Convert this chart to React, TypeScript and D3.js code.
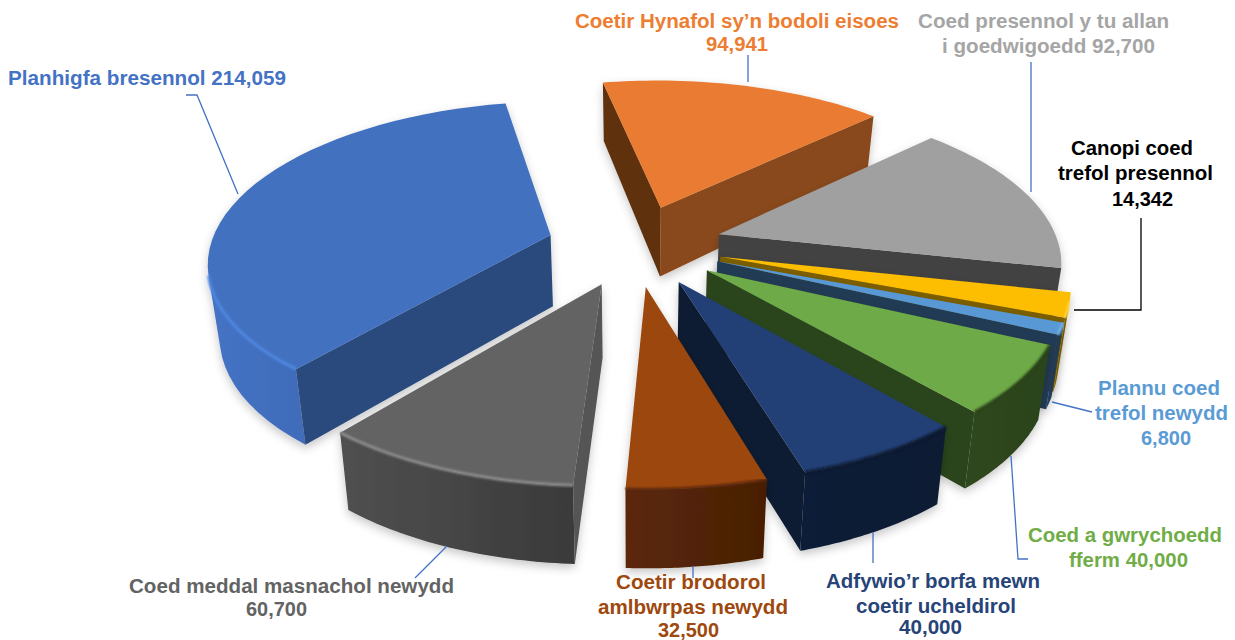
import React from 'react';
import * as d3 from 'd3';

// data
const categories = [
  'Coetir Hynafol', 'Coed presennol', 'Canopi coed', 'Plannu coed', 'Coed a gwrychoedd',
  'Adfywio', 'Coetir brodorol', 'Coed meddal', 'Planhigfa',
];
const values = [94941, 92700, 14342, 6800, 40000, 40000, 32500, 60700, 214059];
const labelLines = [
  ['Coetir Hynafol sy’n bodoli eisoes', '{v}'],
  ['Coed presennol y tu allan', 'i goedwigoedd {v}'],
  ['Canopi coed', 'trefol presennol', '{v}'],
  ['Plannu coed', 'trefol newydd', '{v}'],
  ['Coed a gwrychoedd', 'fferm {v}'],
  ['Adfywio’r borfa mewn', 'coetir ucheldirol', '{v}'],
  ['Coetir brodorol', 'amlbwrpas newydd', '{v}'],
  ['Coed meddal masnachol newydd', '{v}'],
  ['Planhigfa bresennol {v}'],
];

// styles
const topColors = ['#e97c30', '#a0a0a0', '#fdbd00', '#5898d4', '#6eaa46', '#234074', '#9c470c', '#636363', '#4371c0'];
const wallColors = ['#894a1d', '#434343', '#7c5f00', '#213b55', '#2c441b', '#0c1a33', '#59260a', '#555555', '#2a4a7d'];
const startWallColors = ['#5f3110', '#434343', '#7c5f00', '#213b55', '#2c441b', '#0c1a33', '#59260a', '#555555', '#2a4a7d'];
const rimLeft = ['#894a1d', '#6a6a6a', '#a07a00', '#2a4a6a', '#2e471f', '#0e1c37', '#5c280a', '#4f4f4f', '#4472c4'];
const rimRight = ['#894a1d', '#555555', '#7c5f00', '#203a54', '#2c441b', '#0c1a33', '#481f04', '#3a3a3a', '#355d9f'];
const bevelColors = ['#e97c30', '#777777', '#ffd24d', '#7ab4e8', '#2c441b', '#0c1a33', '#59260a', '#8a8a8a', '#4d86e0'];
const labelColors = ['#ed7d31', '#a5a5a5', '#000000', '#5b9bd5', '#70ad47', '#264478', '#9e480e', '#636363', '#4472c4'];

// x0, x1, baseline of each label line
const labelBoxes = [
  [[575, 899, 28], [706, 768, 51]],
  [[918, 1169, 28], [942, 1155, 53]],
  [[1071, 1193, 155], [1058, 1213, 180], [1112, 1173, 206]],
  [[1098, 1220, 395], [1095, 1228, 420], [1141, 1191, 445]],
  [[1028, 1222, 542], [1069, 1188, 567]],
  [[826, 1040, 588], [856, 1016, 613], [899, 962, 634]],
  [[616, 766, 589], [598, 788, 614], [658, 719, 637]],
  [[129, 454, 593], [246, 307, 616]],
  [[8, 286, 85]],
];
const leaderLines = [
  [[748, 55], [748, 82]],
  [[1031, 62], [1031, 192]],
  [[1074, 310], [1141, 310], [1141, 218]],
  [[1052, 402], [1092, 412]],
  [[1011, 456], [1018, 559], [1028, 559]],
  [[873, 532], [873, 563]],
  [[693, 566], [693, 578]],
  [[447, 546], [415, 578]],
  [[186, 95], [197, 95], [238, 194]],
];

const width = 1235, height = 640;
const CX = 635, CY = 245, R = 340, EXPLODE = 88, K = 0.462, P = 0.00045, H = 72;
const START = (-11 * Math.PI) / 180;

type Pt = [number, number];

const project = (X: number, Y: number, z = 0): Pt => {
  const w = 1 / (1 - P * Y);
  const hf = w < 1 ? 1 + 1.2 * (w - 1) : 1 + 0.4 * (w - 1);
  return [CX + X * w * (1 - 0.028 * z), CY + K * Y * w + H * z * hf];
};

const pie = d3.pie<number>().sort(null).startAngle(START).endAngle(START + 2 * Math.PI);
const arcs = pie(values);
const fmt = d3.format(',');
const line = d3.line();
const closed = (pts: Pt[]) => line(pts) + 'Z';
const cross = (a: Pt, b: Pt, c: Pt) => (b[0] - a[0]) * (c[1] - a[1]) - (b[1] - a[1]) * (c[0] - a[0]);

const slices = arcs.map((a, i) => {
  const mid = (a.startAngle + a.endAngle) / 2;
  const ox = EXPLODE * Math.sin(mid), oy = -EXPLODE * Math.cos(mid);
  const steps = d3.range(0, 41).map(t => a.startAngle + ((a.endAngle - a.startAngle) * t) / 40);
  const outer = (z: number) => steps.map(t => project(ox + R * Math.sin(t), oy - R * Math.cos(t), z));
  const tip = project(ox, oy, 0), tipB = project(ox, oy, 1);
  const top = outer(0), bottom = outer(1);
  // a face is seen when it hangs from the edge on the side away from the top face
  const seen = (p: Pt, q: Pt, inside: Pt, down: Pt) => cross(p, q, inside) * cross(p, q, down) < 0;
  const rimIdx = d3.range(0, 40).filter(j => seen(top[j], top[j + 1], tip, bottom[j]));
  const rimTop = rimIdx.length ? [...rimIdx.map(j => top[j]), top[d3.max(rimIdx)! + 1]] : [];
  const rimBottom = rimIdx.length ? [...rimIdx.map(j => bottom[j]), bottom[d3.max(rimIdx)! + 1]] : [];
  return {
    i, depth: oy,
    top: closed([tip, ...top]),
    rim: rimTop.length ? closed([...rimTop, ...[...rimBottom].reverse()]) : null,
    wallStart: seen(tip, top[0], top[20], tipB) ? closed([tip, top[0], bottom[0], tipB]) : null,
    wallEnd: seen(tip, top[40], top[20], tipB) ? closed([tip, top[40], bottom[40], tipB]) : null,
    bevel: rimTop.length > 1 ? (line(rimTop) as string) : null,
    x0: d3.min(bottom, p => p[0]) as number,
    x1: d3.max(bottom, p => p[0]) as number,
  };
});
const drawOrder = [...slices].sort((a, b) => a.depth - b.depth);

export default function App() {
  return (
    <svg width={width} height={height} style={{ position: 'absolute', left: 0, top: 0, background: '#fff' }}>
      <defs>
        <filter id="shadow" x="-20%" y="-20%" width="140%" height="140%">
          <feDropShadow dx="0" dy="4" stdDeviation="5" floodColor="#000" floodOpacity="0.22" />
        </filter>
        <filter id="soft" x="-5%" y="-5%" width="110%" height="110%">
          <feGaussianBlur stdDeviation="1" />
        </filter>
        {slices.map(s => (
          <linearGradient key={s.i} id={`rim${s.i}`} gradientUnits="userSpaceOnUse" x1={s.x0} x2={s.x1} y1={0} y2={0}>
            <stop offset="0" stopColor={rimLeft[s.i]} />
            <stop offset="1" stopColor={rimRight[s.i]} />
          </linearGradient>
        ))}
      </defs>
      {drawOrder.map(s => (
        <g key={s.i} filter="url(#shadow)">
          {s.rim && <path d={s.rim} fill={`url(#rim${s.i})`} />}
          {s.wallStart && <path d={s.wallStart} fill={startWallColors[s.i]} />}
          {s.wallEnd && <path d={s.wallEnd} fill={wallColors[s.i]} />}
          <path d={s.top} fill={topColors[s.i]} />
          {s.bevel && <path d={s.bevel} fill="none" stroke={bevelColors[s.i]} strokeWidth={3} filter="url(#soft)" />}
        </g>
      ))}
      {leaderLines.map((l, i) => (
        <path key={i} d={line(l as Pt[]) as string} fill="none" strokeWidth={1.3}
          stroke={i === 2 ? '#000' : '#4472c4'} />
      ))}
      {labelLines.map((lines, i) =>
        lines.map((t, j) => {
          const [x0, x1, y] = labelBoxes[i][j];
          return (
            <text key={`${i}-${j}`} x={x0} y={y} textLength={x1 - x0} lengthAdjust="spacingAndGlyphs"
              fontFamily="Liberation Sans, Arial, sans-serif" fontWeight="bold" fontSize={20} fill={labelColors[i]}>
              {t.replace('{v}', fmt(values[i]))}
            </text>
          );
        })
      )}
    </svg>
  );
}
